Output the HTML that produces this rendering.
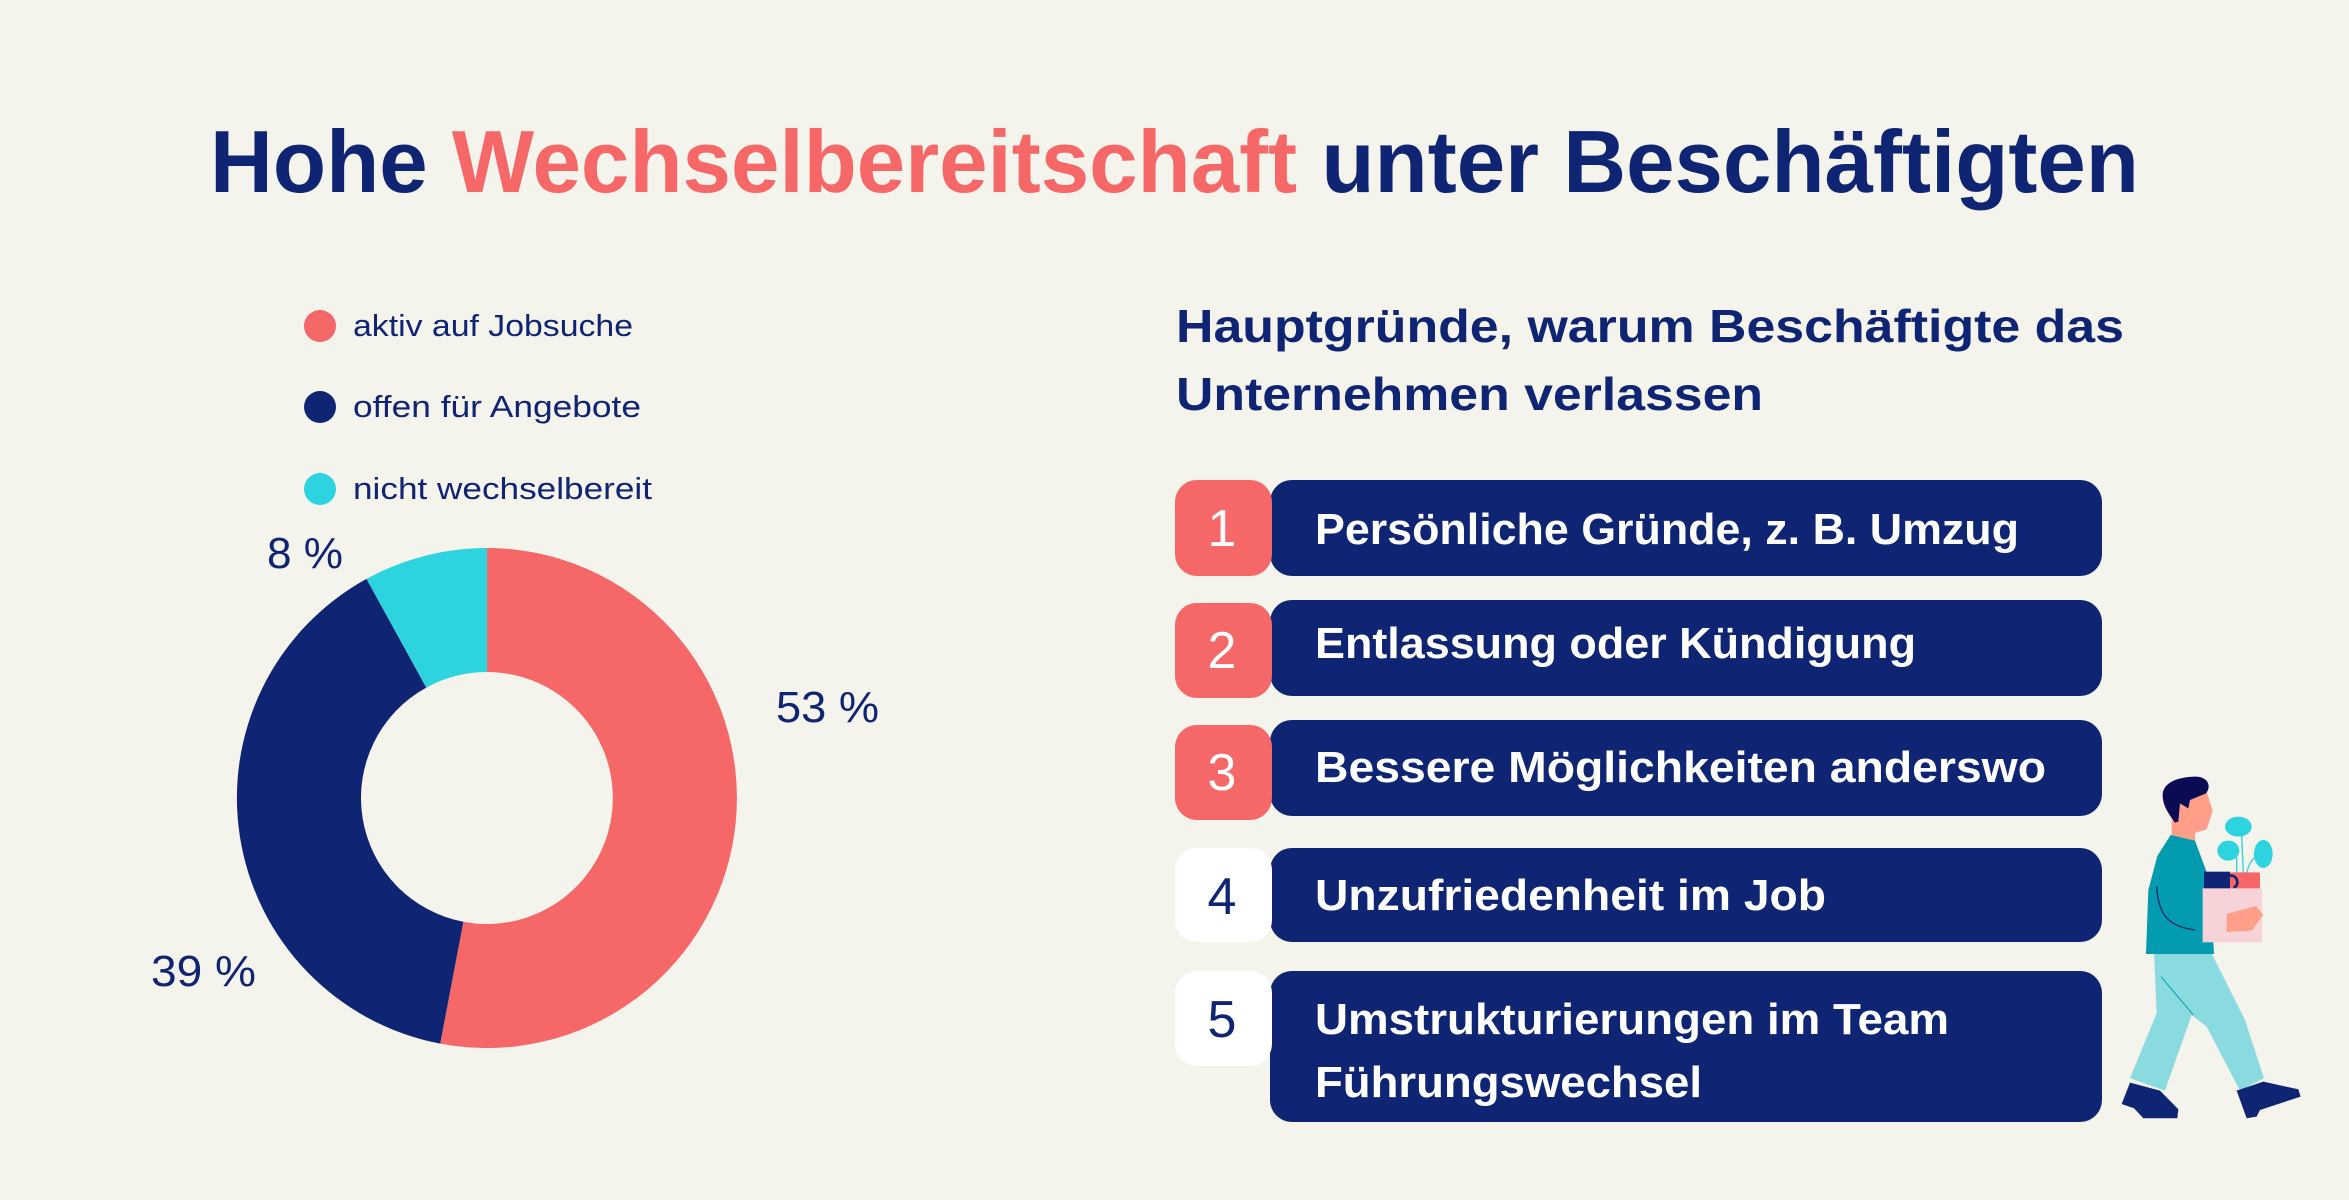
<!DOCTYPE html>
<html><head><meta charset="utf-8"><style>
html,body{margin:0;padding:0;background:#f4f3ec;}
svg{display:block;}
text{font-family:"Liberation Sans",sans-serif;}
</style></head><body>
<svg width="2349" height="1200" viewBox="0 0 2349 1200" xmlns="http://www.w3.org/2000/svg">
<rect width="2349" height="1200" fill="#f4f3ec"/>
<text x="210" y="192" font-size="88" font-weight="bold" fill="#0f2573" textLength="1929" lengthAdjust="spacingAndGlyphs">Hohe <tspan fill="#f66767">Wechselbereitschaft</tspan> unter Beschäftigten</text>

<!-- legend -->
<circle cx="320" cy="326" r="16" fill="#f66767"/>
<circle cx="320" cy="407" r="16" fill="#0f2573"/>
<circle cx="320" cy="489" r="16" fill="#2dd4e0"/>
<g font-size="31" fill="#0f2573">
<text x="353" y="336" textLength="280" lengthAdjust="spacingAndGlyphs">aktiv auf Jobsuche</text>
<text x="353" y="417" textLength="288" lengthAdjust="spacingAndGlyphs">offen für Angebote</text>
<text x="353" y="499" textLength="299" lengthAdjust="spacingAndGlyphs">nicht wechselbereit</text>
</g>

<!-- donut -->
<path d="M487 548 A250 250 0 1 1 440.2 1043.6 L463.4 921.8 A126 126 0 1 0 487 672 Z" fill="#f66767"/>
<path d="M440.2 1043.6 A250 250 0 0 1 366.5 578.9 L426.3 687.6 A126 126 0 0 0 463.4 921.8 Z" fill="#0f2573"/>
<path d="M366.5 578.9 A250 250 0 0 1 487 548 L487 672 A126 126 0 0 0 426.3 687.6 Z" fill="#2dd4e0"/>
<g font-size="44" fill="#0f2573">
<text x="776" y="722" textLength="103" lengthAdjust="spacingAndGlyphs">53 %</text>
<text x="151" y="986" textLength="105" lengthAdjust="spacingAndGlyphs">39 %</text>
<text x="267" y="568" textLength="76" lengthAdjust="spacingAndGlyphs">8 %</text>
</g>

<!-- subtitle -->
<g font-size="46" font-weight="bold" fill="#0f2573">
<text x="1176" y="342" textLength="948" lengthAdjust="spacingAndGlyphs">Hauptgründe, warum Beschäftigte das</text>
<text x="1176" y="410" textLength="587" lengthAdjust="spacingAndGlyphs">Unternehmen verlassen</text>
</g>

<!-- rows -->
<g>
<rect x="1270" y="480" width="832" height="96" rx="22" fill="#0f2573"/>
<rect x="1175" y="480" width="97" height="96" rx="22" fill="#f66767"/>
<rect x="1270" y="600" width="832" height="96" rx="22" fill="#0f2573"/>
<rect x="1175" y="603" width="97" height="95" rx="22" fill="#f66767"/>
<rect x="1270" y="720" width="832" height="96" rx="22" fill="#0f2573"/>
<rect x="1175" y="725" width="97" height="95" rx="22" fill="#f66767"/>
<rect x="1270" y="848" width="832" height="94" rx="22" fill="#0f2573"/>
<rect x="1175" y="848" width="97" height="94" rx="22" fill="#ffffff"/>
<rect x="1270" y="971" width="832" height="151" rx="22" fill="#0f2573"/>
<rect x="1175" y="971" width="97" height="95" rx="22" fill="#ffffff"/>
</g>
<g font-size="52" text-anchor="middle">
<text x="1222" y="546" fill="#fff">1</text>
<text x="1222" y="668" fill="#fff">2</text>
<text x="1222" y="790" fill="#fff">3</text>
<text x="1222" y="914" fill="#0f2573">4</text>
<text x="1222" y="1037" fill="#0f2573">5</text>
</g>
<g font-size="44" font-weight="bold" fill="#fff">
<text x="1315" y="544" textLength="704" lengthAdjust="spacingAndGlyphs">Persönliche Gründe, z. B. Umzug</text>
<text x="1315" y="658" textLength="601" lengthAdjust="spacingAndGlyphs">Entlassung oder Kündigung</text>
<text x="1315" y="782" textLength="731" lengthAdjust="spacingAndGlyphs">Bessere Möglichkeiten anderswo</text>
<text x="1315" y="910" textLength="511" lengthAdjust="spacingAndGlyphs">Unzufriedenheit im Job</text>
<text x="1315" y="1034" textLength="634" lengthAdjust="spacingAndGlyphs">Umstrukturierungen im Team</text>
<text x="1315" y="1097" textLength="387" lengthAdjust="spacingAndGlyphs">Führungswechsel</text>
</g>

<!-- person -->
<g transform="translate(2080,750) scale(0.3333)">
<polygon points="222,605 392,605 495,810 552,985 480,1022 380,830 335,795 255,1022 150,985 230,790" fill="#8adbe0"/>
<path d="M243,680 L340,795" stroke="#029bb0" stroke-width="3" fill="none"/>
<polygon points="150,998 240,1022 295,1078 292,1105 190,1105 162,1075 125,1062" fill="#0f2573"/>
<polygon points="470,1022 550,995 655,1018 662,1040 540,1080 530,1100 500,1105" fill="#0f2573"/>
<rect x="275" y="195" width="70" height="85" fill="#ff9f8a"/>
<polygon points="288,115 378,118 398,183 380,238 340,250 298,228" fill="#ff9f8a"/>
<path d="M248,140 C245,95 300,80 350,80 C385,82 395,110 378,130 L330,150 L325,175 L300,160 L295,215 L285,218 C265,190 250,170 248,140 Z" fill="#0a0a55"/>
<path d="M272,255 L345,272 L385,380 L448,492 L440,548 L398,542 L402,612 L198,612 L205,420 L232,318 Z" fill="#029bb0"/>
<path d="M230,410 C235,500 270,530 345,540" stroke="#0f2573" stroke-width="4" fill="none"/>
<line x1="470" y1="368" x2="470" y2="300" stroke="#2dd4e0" stroke-width="4"/>
<line x1="490" y1="368" x2="485" y2="255" stroke="#2dd4e0" stroke-width="4"/>
<path d="M500,368 C510,330 525,320 540,312" stroke="#2dd4e0" stroke-width="4" fill="none"/>
<ellipse cx="475" cy="230" rx="40" ry="30" fill="#2dd4e0"/>
<ellipse cx="445" cy="302" rx="33" ry="30" fill="#2dd4e0"/>
<ellipse cx="550" cy="312" rx="28" ry="42" fill="#2dd4e0"/>
<rect x="440" y="367" width="100" height="52" rx="5" fill="#f66767"/>
<rect x="372" y="365" width="78" height="55" fill="#0f2573"/>
<path d="M445,378 C475,370 480,410 460,412" stroke="#0f2573" stroke-width="8" fill="none"/>
<rect x="368" y="415" width="178" height="162" fill="#f7d3d8"/>
<polygon points="440,492 528,468 550,495 515,542 440,546" fill="#ff9f8a"/>
</g>
</svg>
</body></html>
